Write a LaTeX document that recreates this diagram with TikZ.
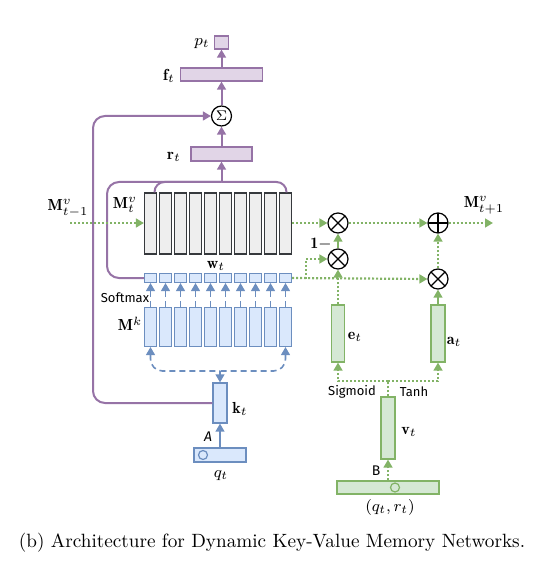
\documentclass[tikz,border=0pt]{standalone}
\usepackage{amsmath}
\usepackage{fontspec}
\newfontfamily\hand{Fira Sans}
\usetikzlibrary{arrows.meta,calc}
\definecolor{purS}{HTML}{9673A6}
\definecolor{purF}{HTML}{E1D5E7}
\definecolor{bluS}{HTML}{6C8EBF}
\definecolor{bluF}{HTML}{DAE8FC}
\definecolor{grnS}{HTML}{82B366}
\definecolor{grnF}{HTML}{D5E8D4}
\definecolor{gryS}{HTML}{36393D}
\definecolor{gryF}{HTML}{EEEEEE}
\begin{document}
\begin{tikzpicture}[x=0.5pt,y=-0.5pt,
  tip/.style={-{Triangle[length=4pt,width=4.4pt]}},
  purp/.style={draw=purS, line width=1pt},
  parr/.style={purp, tip},
  bdash/.style={draw=bluS, line width=0.8pt, dash pattern=on 3pt off 2pt},
  bsolid/.style={draw=bluS, line width=0.8pt, tip},
  gdot/.style={draw=grnS, line width=1.1pt, dash pattern=on 1pt off 1pt, tip},
  gsolid/.style={draw=grnS, line width=0.8pt, tip},
  box/.style={rectangle, inner sep=0pt, line width=0.6pt},
  pbox/.style={box, draw=purS, fill=purF},
  bbox/.style={box, draw=bluS, fill=bluF},
  cbox/.style={box, draw=bluS, fill=bluF, line width=0.5pt, minimum width=6pt},
  gbox/.style={box, draw=grnS, fill=grnF},
  mbox/.style={box, draw=gryS, fill=gryF, line width=0.55pt, minimum width=6pt},
  op/.style={circle, draw=black, line width=0.6pt, minimum size=10pt, inner sep=0pt, fill=white},
  times/.style={op, path picture={\draw[line width=0.6pt] (path picture bounding box.north west) -- (path picture bounding box.south east) (path picture bounding box.north east) -- (path picture bounding box.south west);}},
  plus/.style={op, path picture={\draw[line width=0.6pt] (path picture bounding box.north) -- (path picture bounding box.south) (path picture bounding box.east) -- (path picture bounding box.west);}},
  lbl/.style={inner sep=0pt, font=\fontsize{8}{9}\selectfont},
  hlbl/.style={inner sep=0pt, font=\hand\fontsize{6.5}{8}\selectfont}
]
\useasboundingbox (0,0) rectangle (551,566);

% ---- output part (purple)
\node[pbox, minimum width=7pt, minimum height=6.5pt] (pt) at (221.5,42.5) {};
\node[pbox, minimum width=41pt, minimum height=6.5pt] (ft) at (221.5,74.5) {};
\node[op, font=\fontsize{7}{8}\selectfont] (sig) at (221.5,116) {$\Sigma$};
\node[pbox, minimum width=30.5pt, minimum height=7pt] (rt) at (221.5,154) {};
\node[lbl] (lpt) at (202,44) {$p_t$};
\node[lbl] (lft) at (169,76) {$\mathbf{f}_t$};
\node[lbl] (lrt) at (174,157) {$\mathbf{r}_t$};
\draw[parr] (sig) -- (ft);
\draw[parr] (ft) -- (pt);
\draw[parr] (rt) -- (sig);

% ---- memories
\foreach \i in {1,...,10} {
  \node[mbox, minimum height=30.5pt] (mv\i) at ({150.5+15*(\i-1)},223.5) {};
  \node[cbox, minimum height=4.5pt] (wt\i) at ({150.5+15*(\i-1)},278) {};
  \node[cbox, minimum height=19.5pt] (mk\i) at ({150.5+15*(\i-1)},327) {};
  \draw[bdash, tip] (mk\i) -- (wt\i);
}
\node[lbl] (lmvt) at (125,205) {$\mathbf{M}^v_t$};
\node[lbl] (lmvp) at (68,208) {$\mathbf{M}^v_{t-1}$};
\node[lbl] (lwt) at (216,266) {$\mathbf{w}_t$};
\node[hlbl] (lsm) at (125,298) {Softmax};
\node[lbl] (lmk) at (130,324) {$\mathbf{M}^k$};

% purple brace to r_t
\coordinate (pj) at (221.5,182);
\draw[purp, rounded corners=6pt] (wt1.west) -- (107,278) |- (pj);
\draw[purp, rounded corners=5pt] ($(mv1.north)+(4,0)$) |- (pj);
\draw[purp, rounded corners=5pt] ($(mv10.north)+(1,0)$) |- (pj);
\draw[parr] (pj) -- (rt);

% ---- key / query (blue)
\node[bbox, minimum width=7pt, minimum height=20pt] (kt) at (220,403) {};
\node[bbox, minimum width=26pt, minimum height=7pt] (qt) at (220,455) {};
\node[circle, draw=bluS, line width=0.6pt, minimum size=4.5pt, inner sep=0pt] (qc) at (203,455) {};
\node[lbl] (lkt) at (240,409) {$\mathbf{k}_t$};
\node[lbl] (lqt) at (221,476) {$q_t$};
\node[hlbl, font=\hand\itshape\fontsize{7}{8}\selectfont] (lA) at (208,437) {A};
\draw[bsolid] (qt) -- (kt);
\coordinate (bj) at (220,371);
\draw[bdash, rounded corners=6pt, {Triangle[length=4pt,width=4.4pt]}-] (mk1.south) |- (bj);
\draw[bdash, rounded corners=6pt, {Triangle[length=4pt,width=4.4pt]}-] (mk10.south) |- (bj);
\draw[bdash, tip] (bj) -- (kt.north);
% loop k_t -> Sigma
\draw[parr, rounded corners=6pt] (kt.west) -- (93,403) |- (sig.west);

% ---- write part (green)
\node[times] (x1) at (338,223) {};
\node[times] (x2) at (338,259) {};
\node[plus] (pl) at (438,223) {};
\node[times] (x3) at (438,279) {};
\coordinate (min) at (70,223);
\coordinate (mout) at (493,223);
\node[lbl] (lmvn) at (484,205) {$\mathbf{M}^v_{t+1}$};
\node[lbl] (lone) at (321,244) {$\mathbf{1}-$};
\draw[gdot] (min) -- (mv1.west |- min);
\draw[gdot] (mv10.east |- x1) -- (x1);
\draw[gdot] (x1) -- (pl);
\draw[gdot] (pl) -- (mout);
\draw[gsolid] (x2) -- (x1);
\draw[gdot] (x3) -- (pl);
\draw[gdot] (wt10.east) -- (x3.west);
\draw[gdot] (306,279) |- (x2.west);

\node[gbox, minimum width=6.5pt, minimum height=28.5pt] (et) at (338,333.5) {};
\node[gbox, minimum width=7pt, minimum height=28.5pt] (at) at (438,333.5) {};
\node[lbl] (let) at (355,337) {$\mathbf{e}_t$};
\node[lbl] (lat) at (454,342) {$\mathbf{a}_t$};
\draw[gdot] (et) -- (x2);
\draw[gsolid] (at) -- (x3);

\node[gbox, minimum width=7pt, minimum height=31pt] (vt) at (388,428) {};
\node[gbox, minimum width=51pt, minimum height=6.5pt] (qr) at (388,487.5) {};
\node[circle, draw=grnS, line width=0.6pt, minimum size=4.5pt, inner sep=0pt] (qrc) at (395,487.5) {};
\node[lbl] (lvt) at (409,432) {$\mathbf{v}_t$};
\node[lbl] (lqr) at (390,507) {$(q_t,r_t)$};
\node[hlbl, font=\hand\fontsize{7}{8}\selectfont] (lB) at (376,471) {B};
\node[hlbl] (lsg) at (352,392) {Sigmoid};
\node[hlbl] (lth) at (414,392) {Tanh};
\draw[gdot] (qr) -- (vt);
\coordinate (gj) at (388,381);
\draw[gdot, -] (vt) -- (gj);
\draw[gdot] (gj) -| (et.south);
\draw[gdot] (gj) -| (at.south);

% caption
\node[inner sep=0pt, font=\fontsize{9.6}{11.5}\selectfont] (cap) at (272,543) {(b) Architecture for Dynamic Key-Value Memory Networks.};
\end{tikzpicture}
\end{document}
